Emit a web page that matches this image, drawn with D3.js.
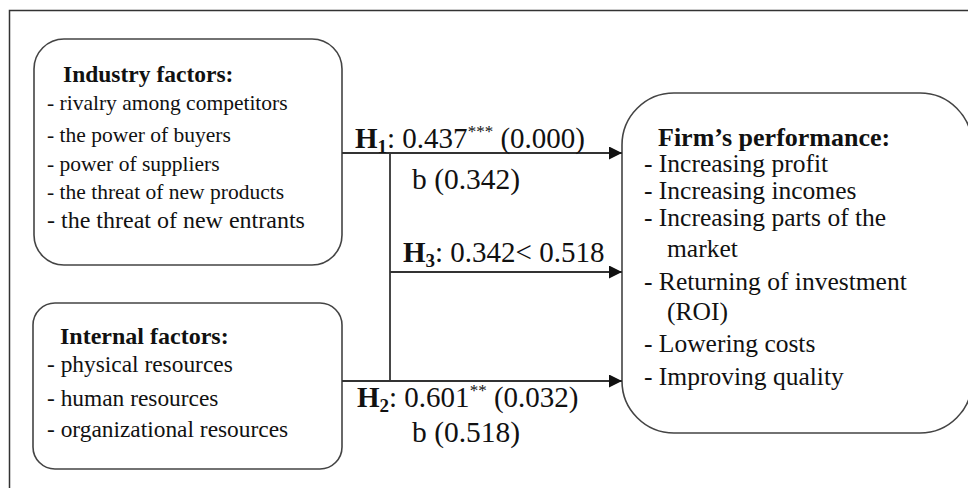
<!DOCTYPE html>
<html><head><meta charset="utf-8">
<script src="https://cdn.jsdelivr.net/npm/d3@7"></script>
<style>
html,body{margin:0;padding:0;background:#fff;}
svg{display:block;}
text{font-family:"Liberation Serif","Times New Roman",serif;fill:#111;}
</style></head>
<body>
<svg id="chart" width="968" height="488"></svg>
<script>
// ---- data ----
const industryTitle = "Industry factors:";
const industryItems = ["rivalry among competitors","the power of buyers","power of suppliers","the threat of new products","the threat of new entrants"];
const internalTitle = "Internal factors:";
const internalItems = ["physical resources","human resources","organizational resources"];
const performanceTitle = "Firm\u2019s performance:";
const performanceItems = ["Increasing profit","Increasing incomes","Increasing parts of the","market","Returning of investment","(ROI)","Lowering costs","Improving quality"];
const performanceBullets = [true,true,true,false,true,false,true,true];
const hypothesisIds = ["1","2","3"];
const coefficients = ["0.437","0.601"];
const significance = ["***","**"];
const pValues = ["0.000","0.032"];
const betas = ["0.342","0.518"];

const svg = d3.select("#chart");
const stroke = "#444";

// arrow marker
svg.append("defs").append("marker")
  .attr("id","arr").attr("viewBox","0 0 10 10").attr("refX",10).attr("refY",5)
  .attr("markerUnits","userSpaceOnUse").attr("markerWidth",15).attr("markerHeight",13)
  .attr("orient","auto")
  .append("path").attr("d","M0,0L10,5L0,10Z").attr("fill","#111");

// outer frame
svg.append("rect").attr("x",9.5).attr("y",10.5).attr("width",990).attr("height",500)
  .attr("fill","none").attr("stroke","#333").attr("stroke-width",1.5);

// boxes
const boxes = [
  {x:34,y:39,w:308,h:226,r:30},
  {x:33,y:303,w:309,h:166,r:22},
  {x:622,y:93,w:350,h:340,r:52}
];
svg.selectAll("rect.box").data(boxes).join("rect").attr("class","box")
  .attr("x",d=>d.x).attr("y",d=>d.y).attr("width",d=>d.w).attr("height",d=>d.h)
  .attr("rx",d=>d.r).attr("ry",d=>d.r)
  .attr("fill","none").attr("stroke",stroke).attr("stroke-width",1.6);

// connectors
const line = (x1,y1,x2,y2,arrow)=>{
  const l = svg.append("line").attr("x1",x1).attr("y1",y1).attr("x2",x2).attr("y2",y2)
    .attr("stroke","#333").attr("stroke-width",1.8);
  if(arrow) l.attr("marker-end","url(#arr)");
};
line(342,153,622,153,true);
line(390,153,390,381,false);
line(390,272,622,272,true);
line(342,381,622,381,true);

// lists
function list(title, items, bullets, tx, ty, ix, indent, baselines, titleSize, sizes){
  svg.append("text").attr("x",tx).attr("y",ty).attr("font-weight","bold")
    .attr("font-size",titleSize).text(title);
  const y = d3.scaleOrdinal().domain(d3.range(items.length)).range(baselines);
  svg.selectAll(null).data(items).join("text")
    .attr("x",(d,i)=> bullets[i] ? ix : ix+indent)
    .attr("y",(d,i)=>y(i))
    .attr("font-size",(d,i)=>sizes[i])
    .text((d,i)=> (bullets[i] ? "- " : "") + d);
}
list(industryTitle, industryItems, industryItems.map(()=>true), 63, 82, 47, 0,
  [110,142,171,199,228], 23.5, [21.5,21.5,21.5,21.5,24]);
list(internalTitle, internalItems, internalItems.map(()=>true), 60, 344, 47, 0,
  [372,406,437], 24, [23.4,23.4,23.4]);
list(performanceTitle, performanceItems, performanceBullets, 658, 146, 644, 23,
  [172,199,226,257,290,320,352,385], 26, performanceItems.map(()=>25.5));

// hypothesis labels
function hyp(x, y, id, parts){
  const t = svg.append("text").attr("x",x).attr("y",y).attr("font-size",29);
  t.append("tspan").attr("font-weight","bold").text("H");
  t.append("tspan").attr("font-weight","bold").attr("font-size",19).attr("dy",5).text(id);
  t.append("tspan").attr("dy",-5).text(": " + parts[0]);
  if(parts[1]){
    t.append("tspan").attr("font-size",17).attr("dy",-11).text(parts[1]);
    t.append("tspan").attr("dy",11).text(parts[2]);
  }
}
hyp(355,148,hypothesisIds[0],[coefficients[0], significance[0], " (" + pValues[0] + ")"]);
hyp(357,407,hypothesisIds[1],[coefficients[1], significance[1], " (" + pValues[1] + ")"]);
hyp(403,262,hypothesisIds[2],[betas[0] + "< " + betas[1]]);

svg.append("text").attr("x",412).attr("y",189).attr("font-size",29.5).text("b (" + betas[0] + ")");
svg.append("text").attr("x",412).attr("y",442).attr("font-size",29.5).text("b (" + betas[1] + ")");
</script>
</body></html>
